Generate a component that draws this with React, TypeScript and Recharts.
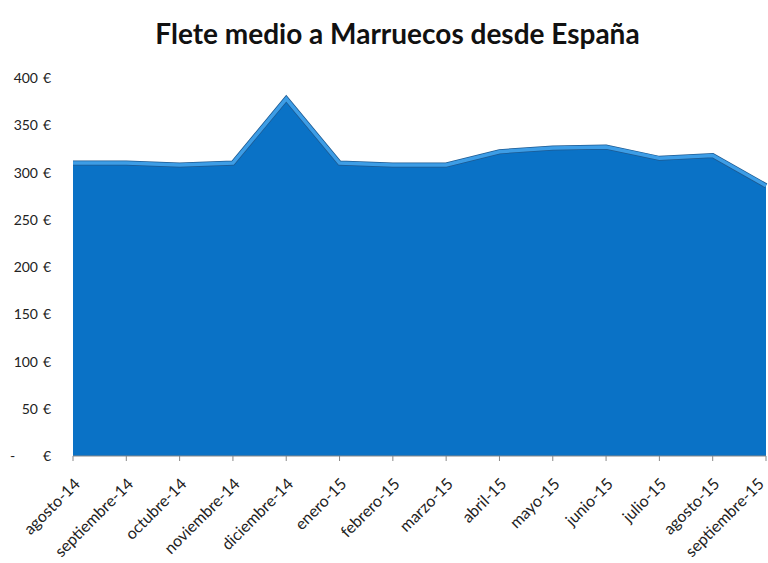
import { AreaChart, Area, XAxis, YAxis } from "recharts"

const months = [
  "agosto-14",
  "septiembre-14",
  "octubre-14",
  "noviembre-14",
  "diciembre-14",
  "enero-15",
  "febrero-15",
  "marzo-15",
  "abril-15",
  "mayo-15",
  "junio-15",
  "julio-15",
  "agosto-15",
  "septiembre-15",
]

const flete = [310, 310, 308, 310, 378, 310, 308, 308, 322, 326, 327, 315, 318, 286]

const yTicks = [0, 50, 100, 150, 200, 250, 300, 350, 400]

const data = months.map((mes, i) => ({ mes, flete: flete[i] }))

const font = "Lato, 'Open Sans', sans-serif"

function EuroTick({ x, y, payload }: any) {
  const v = payload.value
  return (
    <g>
      <text
        x={v === 0 ? x - 55 : x - 27}
        y={y}
        dy={5}
        textAnchor={v === 0 ? "start" : "end"}
        fontSize={14}
        fontFamily={font}
        fill="#222"
      >
        {v === 0 ? "-" : v}
      </text>
      <text x={x - 14} y={y} dy={5} textAnchor="end" fontSize={14} fontFamily={font} fill="#222">
        €
      </text>
    </g>
  )
}

function MonthTick({ x, y, payload }: any) {
  const ax = Math.min(x + 8, 765)
  const ay = y + 22
  return (
    <text
      x={ax}
      y={ay}
      textAnchor="end"
      fontSize={16}
      fontFamily={font}
      fill="#222"
      transform={`rotate(-45, ${ax}, ${ay})`}
    >
      {payload.value}
    </text>
  )
}

export default function App() {
  return (
    <div style={{ position: "absolute", left: 0, top: 0, width: 768, height: 563, background: "#fff" }}>
      <div
        style={{
          position: "absolute",
          top: 16,
          left: 0,
          width: 795,
          textAlign: "center",
          fontFamily: font,
          fontWeight: 700,
          fontSize: 28,
          color: "#111",
        }}
      >
        Flete medio a Marruecos desde España
      </div>
      <AreaChart width={768} height={563} data={data} margin={{ top: 78, right: 2, bottom: 0, left: 0 }}>
        <XAxis
          dataKey="mes"
          interval={0}
          tick={<MonthTick />}
          tickLine={{ stroke: "#888" }}
          axisLine={{ stroke: "#888" }}
          tickSize={5}
          height={107}
        />
        <YAxis
          domain={[0, 400]}
          ticks={yTicks}
          tick={<EuroTick />}
          axisLine={false}
          tickLine={false}
          width={73}
        />
        <Area
          type="linear"
          dataKey="flete"
          fill="#0a72c6"
          fillOpacity={1}
          stroke="#1d5a92"
          strokeWidth={5}
          isAnimationActive={false}
        />
        <Area
          type="linear"
          dataKey="flete"
          fill="none"
          stroke="#3d9de6"
          strokeWidth={3.5}
          isAnimationActive={false}
        />
      </AreaChart>
    </div>
  )
}
